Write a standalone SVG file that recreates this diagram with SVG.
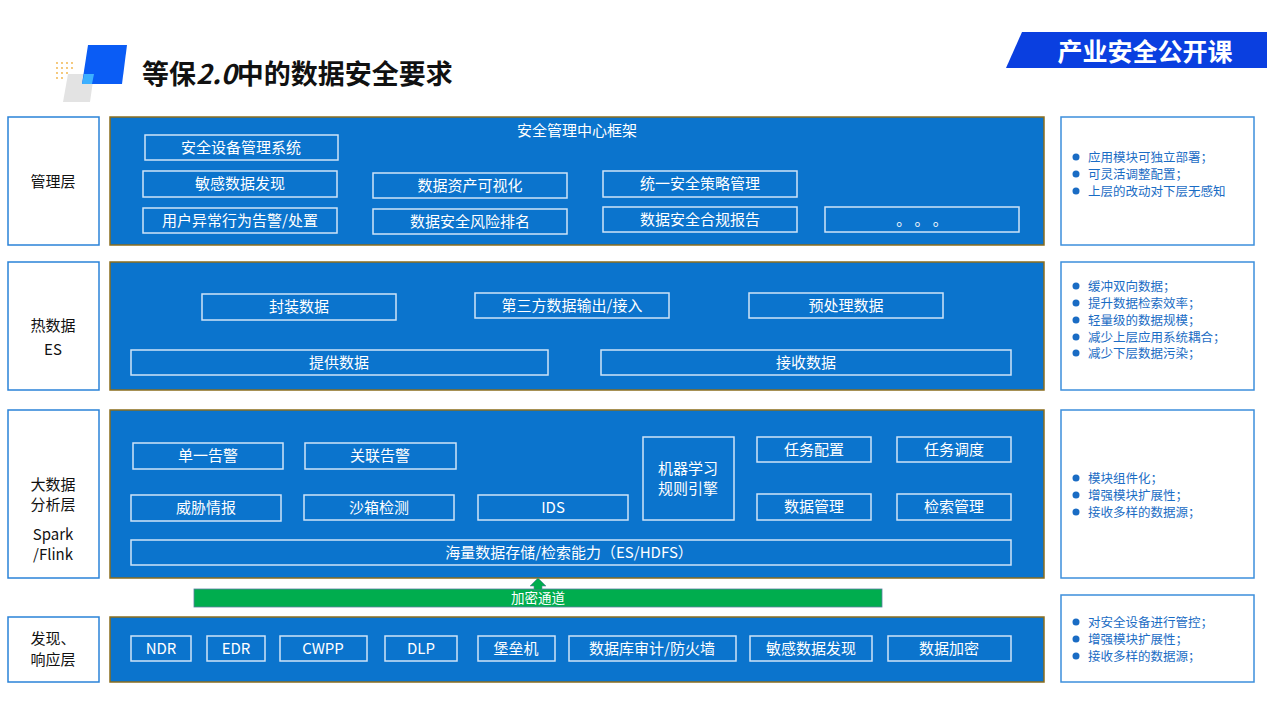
<svg xmlns="http://www.w3.org/2000/svg" width="1267" height="711" viewBox="0 0 1267 711">
<defs>
<style>
text{font-family:"Noto Sans CJK SC","Microsoft YaHei",sans-serif}
.lab{fill:#fff;stroke:#2a82d8;stroke-width:1.5}
.lt{font-size:15px;fill:#111;text-anchor:middle}
.pan{fill:#0b74cd;stroke:#8a6d1e;stroke-width:1.5}
.bx{fill:none;stroke:#cfe3f7;stroke-width:1.5}
.bt{font-size:15px;fill:#fff;text-anchor:middle}
.side{fill:#fff;stroke:#3d8fdc;stroke-width:1.5}
.st{font-size:12.5px;fill:#1a6cc4}
.dot{fill:#1a6cc4}
</style>
</defs>
<rect width="1267" height="711" fill="#fff"/>
<g id="header">
<g fill="#f0b040"><circle cx="57" cy="63" r="0.9"/><circle cx="62" cy="63" r="0.9"/><circle cx="67" cy="63" r="0.9"/><circle cx="72" cy="63" r="0.9"/><circle cx="57" cy="68" r="0.9"/><circle cx="62" cy="68" r="0.9"/><circle cx="67" cy="68" r="0.9"/><circle cx="72" cy="68" r="0.9"/><circle cx="57" cy="73" r="0.9"/><circle cx="62" cy="73" r="0.9"/><circle cx="67" cy="73" r="0.9"/><circle cx="57" cy="78" r="0.9"/><circle cx="62" cy="78" r="0.9"/></g>
<polygon points="68,74 94,74 90,102 63,102" fill="#e3e3e3"/>
<polygon points="88,45 127,45 122,84 82,84" fill="#0a5cf5"/>
<polygon points="84,74 94,74 92,84 82,84" fill="#3db0ff"/>
<text x="142" y="84" font-size="27" font-weight="bold" fill="#111">等保<tspan font-style="italic">2.0</tspan>中的数据安全要求</text>
<polygon points="1022,32 1267,32 1267,68 1006,68" fill="#0a3fe0"/>
<text x="1145" y="61" font-size="25" font-weight="bold" fill="#fff" text-anchor="middle">产业安全公开课</text>
</g>
<g id="layer-labels">
<rect class="lab" x="8" y="117" width="91" height="128"/><text class="lt" x="53" y="187">管理层</text>
<rect class="lab" x="8" y="262" width="91" height="128"/><text class="lt" x="53" y="331">热数据</text><text class="lt" x="53" y="355">ES</text>
<rect class="lab" x="8" y="410" width="91" height="168"/><text class="lt" x="53" y="490">大数据</text><text class="lt" x="53" y="510">分析层</text><text class="lt" x="53" y="540">Spark</text><text class="lt" x="53" y="560">/Flink</text>
<rect class="lab" x="8" y="617" width="91" height="65"/><text class="lt" x="53" y="644">发现、</text><text class="lt" x="53" y="665">响应层</text>
</g>
<g id="panel-mgmt">
<rect class="pan" x="110" y="117" width="934" height="128"/>
<text class="bt" x="577" y="136">安全管理中心框架</text>
<rect class="bx" x="145" y="135" width="193" height="25"/><text class="bt" x="241" y="153">安全设备管理系统</text>
<rect class="bx" x="143" y="171" width="194" height="26"/><text class="bt" x="240" y="189">敏感数据发现</text>
<rect class="bx" x="143" y="208" width="194" height="25"/><text class="bt" x="240" y="226">用户异常行为告警/处置</text>
<rect class="bx" x="373" y="173" width="194" height="25"/><text class="bt" x="470" y="191">数据资产可视化</text>
<rect class="bx" x="373" y="209" width="194" height="25"/><text class="bt" x="470" y="227">数据安全风险排名</text>
<rect class="bx" x="603" y="171" width="194" height="26"/><text class="bt" x="700" y="189">统一安全策略管理</text>
<rect class="bx" x="603" y="207" width="194" height="25"/><text class="bt" x="700" y="225">数据安全合规报告</text>
<rect class="bx" x="825" y="207" width="194" height="25"/><text class="bt" x="922" y="225">。 。 。</text>
</g>
<g id="panel-es">
<rect class="pan" x="110" y="262" width="934" height="128"/>
<rect class="bx" x="202" y="294" width="194" height="26"/><text class="bt" x="299" y="312">封装数据</text>
<rect class="bx" x="475" y="293" width="194" height="25"/><text class="bt" x="572" y="311">第三方数据输出/接入</text>
<rect class="bx" x="749" y="293" width="194" height="25"/><text class="bt" x="846" y="311">预处理数据</text>
<rect class="bx" x="131" y="350" width="417" height="25"/><text class="bt" x="339" y="368">提供数据</text>
<rect class="bx" x="601" y="350" width="410" height="25"/><text class="bt" x="806" y="368">接收数据</text>
</g>
<g id="panel-bigdata">
<rect class="pan" x="110" y="410" width="934" height="168"/>
<rect class="bx" x="133" y="443" width="150" height="26"/><text class="bt" x="208" y="461">单一告警</text>
<rect class="bx" x="305" y="443" width="151" height="26"/><text class="bt" x="380" y="461">关联告警</text>
<rect class="bx" x="131" y="495" width="150" height="26"/><text class="bt" x="206" y="513">威胁情报</text>
<rect class="bx" x="304" y="495" width="150" height="25"/><text class="bt" x="379" y="513">沙箱检测</text>
<rect class="bx" x="478" y="495" width="150" height="25"/><text class="bt" x="553" y="513">IDS</text>
<rect class="bx" x="643" y="437" width="91" height="83"/><text class="bt" x="688" y="474">机器学习</text><text class="bt" x="688" y="494">规则引擎</text>
<rect class="bx" x="757" y="437" width="114" height="25"/><text class="bt" x="814" y="455">任务配置</text>
<rect class="bx" x="897" y="437" width="114" height="25"/><text class="bt" x="954" y="455">任务调度</text>
<rect class="bx" x="757" y="494" width="114" height="26"/><text class="bt" x="814" y="512">数据管理</text>
<rect class="bx" x="897" y="494" width="114" height="26"/><text class="bt" x="954" y="512">检索管理</text>
<rect class="bx" x="131" y="540" width="880" height="25"/><text class="bt" x="569" y="558">海量数据存储/检索能力（ES/HDFS）</text>
</g>
<g id="connectors">
<rect x="194" y="589" width="688" height="18" fill="#00ad4e" stroke="#5a7fa0" stroke-width="0.8"/>
<polygon points="538,578 546,586 542,586 542,590 534,590 534,586 530,586" fill="#00ad4e" stroke="#5a7fa0" stroke-width="0.6"/>
<text x="538" y="603" font-size="13.5" fill="#fff" text-anchor="middle">加密通道</text>
</g>
<g id="panel-detect">
<rect class="pan" x="110" y="617" width="934" height="65"/>
<rect class="bx" x="131" y="636" width="60" height="25"/><text class="bt" x="161" y="654">NDR</text>
<rect class="bx" x="207" y="636" width="58" height="25"/><text class="bt" x="236" y="654">EDR</text>
<rect class="bx" x="280" y="636" width="87" height="25"/><text class="bt" x="323" y="654">CWPP</text>
<rect class="bx" x="385" y="636" width="72" height="25"/><text class="bt" x="421" y="654">DLP</text>
<rect class="bx" x="478" y="636" width="77" height="25"/><text class="bt" x="516" y="654">堡垒机</text>
<rect class="bx" x="569" y="636" width="167" height="25"/><text class="bt" x="652" y="654">数据库审计/防火墙</text>
<rect class="bx" x="750" y="636" width="122" height="25"/><text class="bt" x="811" y="654">敏感数据发现</text>
<rect class="bx" x="888" y="636" width="123" height="25"/><text class="bt" x="949" y="654">数据加密</text>
</g>
<g id="side-notes">
<rect class="side" x="1061" y="117" width="193" height="128"/>
<circle class="dot" cx="1076" cy="157" r="3.5"/><text class="st" x="1088" y="162">应用模块可独立部署；</text>
<circle class="dot" cx="1076" cy="174" r="3.5"/><text class="st" x="1088" y="179">可灵活调整配置；</text>
<circle class="dot" cx="1076" cy="191" r="3.5"/><text class="st" x="1088" y="196">上层的改动对下层无感知</text>
<rect class="side" x="1061" y="262" width="193" height="128"/>
<circle class="dot" cx="1076" cy="286" r="3.5"/><text class="st" x="1088" y="291">缓冲双向数据；</text>
<circle class="dot" cx="1076" cy="303" r="3.5"/><text class="st" x="1088" y="308">提升数据检索效率；</text>
<circle class="dot" cx="1076" cy="320" r="3.5"/><text class="st" x="1088" y="325">轻量级的数据规模；</text>
<circle class="dot" cx="1076" cy="337" r="3.5"/><text class="st" x="1088" y="342">减少上层应用系统耦合；</text>
<circle class="dot" cx="1076" cy="353" r="3.5"/><text class="st" x="1088" y="358">减少下层数据污染；</text>
<rect class="side" x="1061" y="410" width="193" height="168"/>
<circle class="dot" cx="1076" cy="478" r="3.5"/><text class="st" x="1088" y="483">模块组件化；</text>
<circle class="dot" cx="1076" cy="495" r="3.5"/><text class="st" x="1088" y="500">增强模块扩展性；</text>
<circle class="dot" cx="1076" cy="512" r="3.5"/><text class="st" x="1088" y="517">接收多样的数据源；</text>
<rect class="side" x="1061" y="595" width="193" height="87"/>
<circle class="dot" cx="1076" cy="622" r="3.5"/><text class="st" x="1088" y="627">对安全设备进行管控；</text>
<circle class="dot" cx="1076" cy="639" r="3.5"/><text class="st" x="1088" y="644">增强模块扩展性；</text>
<circle class="dot" cx="1076" cy="656" r="3.5"/><text class="st" x="1088" y="661">接收多样的数据源；</text>
</g>
</svg>
